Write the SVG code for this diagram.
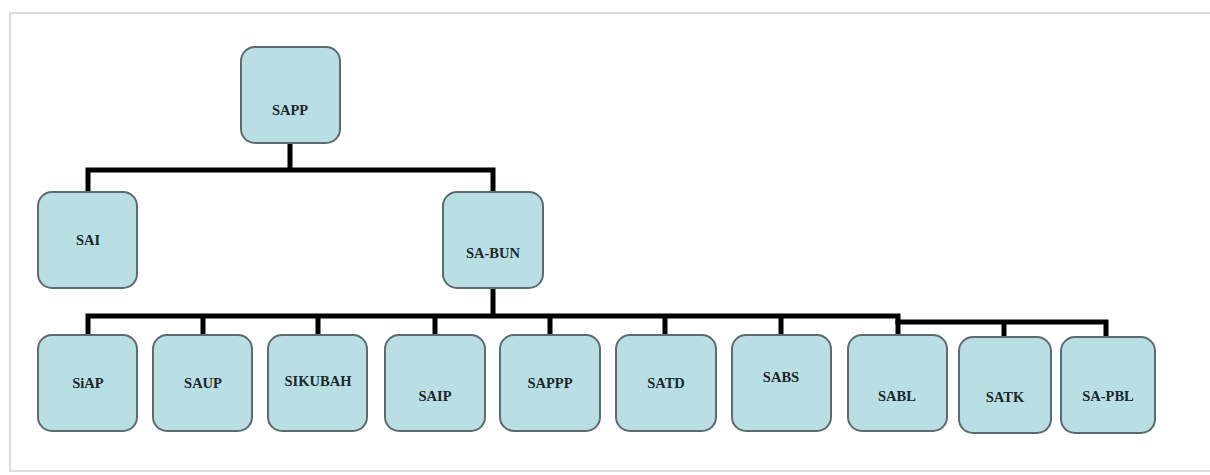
<svg xmlns="http://www.w3.org/2000/svg" width="1210" height="475" viewBox="0 0 1210 475">
<style>
.box{fill:#b9dfe5;stroke:#5d6b6e;stroke-width:2}
.lbl{font-family:"Liberation Serif","Times New Roman",serif;font-weight:bold;font-size:14.5px;fill:#1b2729;text-anchor:middle;dominant-baseline:central}
.ln{stroke:#000;stroke-width:5;fill:none;stroke-linecap:square}
</style>
<rect x="0" y="0" width="1210" height="475" fill="#fff"/>
<path d="M1210 13H10V471H1210" fill="none" stroke="#dcdcdc" stroke-width="2"/>
<g id="connectors">
<path class="ln" d="M290 143V170M88 170H493M88 170V192M493 170V192"/>
<path class="ln" d="M493 288V316M88 316H898M88 316V335M203 316V335M318 316V335M435 316V335M550 316V335M665 316V335M781 316V335M898 316V335"/>
<path class="ln" d="M898 322H1106M1004 322V337M1106 322V337"/>
</g>
<g id="SAPP"><rect class="box" x="241" y="47" width="99" height="96" rx="14"/><text class="lbl" x="290" y="110">SAPP</text></g>
<g id="SAI"><rect class="box" x="38" y="192" width="99" height="96" rx="14"/><text class="lbl" x="88" y="240">SAI</text></g>
<g id="SA-BUN"><rect class="box" x="443" y="192" width="100" height="96" rx="14"/><text class="lbl" x="493" y="253">SA-BUN</text></g>
<g id="SiAP"><rect class="box" x="38" y="335" width="99" height="96" rx="14"/><text class="lbl" x="88" y="383">SiAP</text></g>
<g id="SAUP"><rect class="box" x="153" y="335" width="99" height="96" rx="14"/><text class="lbl" x="203" y="383">SAUP</text></g>
<g id="SIKUBAH"><rect class="box" x="268" y="335" width="99" height="96" rx="14"/><text class="lbl" x="318" y="381">SIKUBAH</text></g>
<g id="SAIP"><rect class="box" x="385" y="335" width="100" height="96" rx="14"/><text class="lbl" x="435" y="396">SAIP</text></g>
<g id="SAPPP"><rect class="box" x="500" y="335" width="100" height="96" rx="14"/><text class="lbl" x="550" y="383">SAPPP</text></g>
<g id="SATD"><rect class="box" x="616" y="335" width="100" height="96" rx="14"/><text class="lbl" x="666" y="383">SATD</text></g>
<g id="SABS"><rect class="box" x="732" y="335" width="99" height="96" rx="14"/><text class="lbl" x="781" y="377">SABS</text></g>
<g id="SABL"><rect class="box" x="848" y="335" width="99" height="96" rx="14"/><text class="lbl" x="897" y="396">SABL</text></g>
<g id="SATK"><rect class="box" x="959" y="337" width="92" height="96" rx="14"/><text class="lbl" x="1005" y="397">SATK</text></g>
<g id="SA-PBL"><rect class="box" x="1061" y="337" width="94" height="96" rx="14"/><text class="lbl" x="1108" y="396">SA-PBL</text></g>
</svg>
